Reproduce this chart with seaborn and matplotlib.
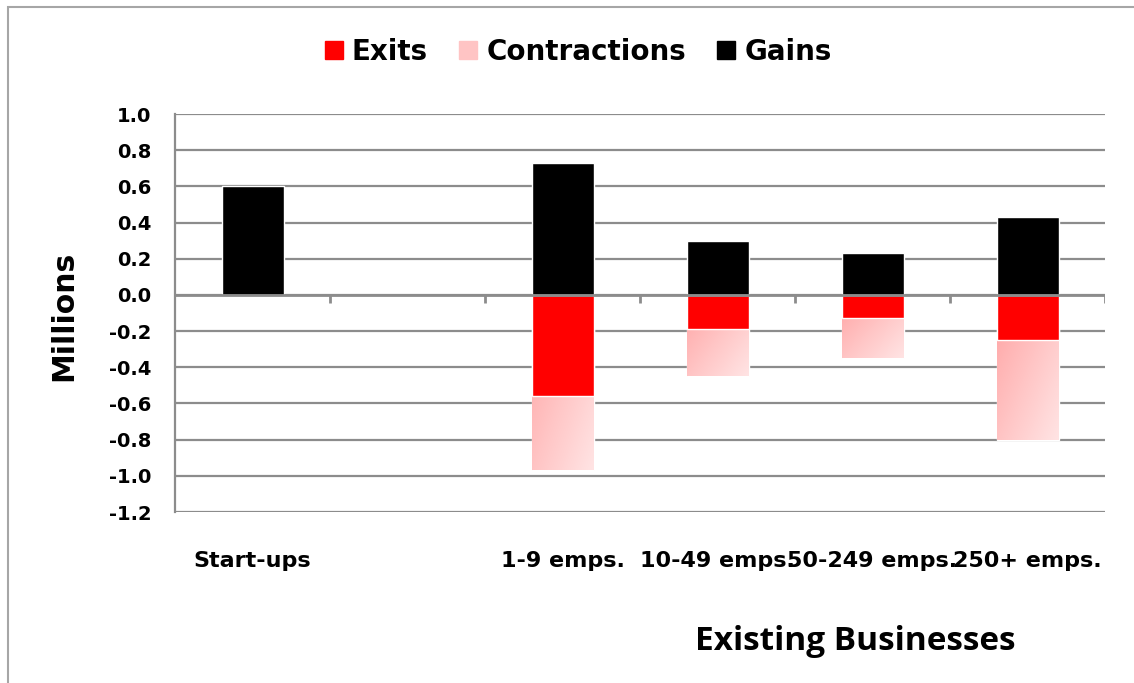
import numpy as np
import pandas as pd
import matplotlib
matplotlib.use("Agg")
import matplotlib.pyplot as plt
import seaborn as sns
from matplotlib.lines import Line2D
from matplotlib.patches import Rectangle
from matplotlib.colors import LinearSegmentedColormap

# ---- data ----
categories = ["Start-ups", " ", "1-9 emps.", "10-49 emps.", "50-249 emps.", "250+ emps."]
exits = [np.nan, np.nan, -0.56, -0.19, -0.13, -0.25]
contractions = [np.nan, np.nan, -0.41, -0.26, -0.22, -0.55]
gains = [0.60, np.nan, 0.73, 0.30, 0.23, 0.43]
y_ticks = [1.0, 0.8, 0.6, 0.4, 0.2, 0.0, -0.2, -0.4, -0.6, -0.8, -1.0, -1.2]
series_names = ["Exits", "Contractions", "Gains"]

sns.set_style("white")
plt.rcParams["font.family"] = ["DejaVu Sans"]
plt.rcParams["axes.unicode_minus"] = False
plt.rcParams["text.color"] = "black"
plt.rcParams["xtick.labelcolor"] = "black"
plt.rcParams["ytick.labelcolor"] = "black"

GRID = "#8c8c8c"
RED = "#ff0000"
PINK_A = "#ffa3a3"
PINK_B = "#ffe4e4"

fig = plt.figure(figsize=(11.34, 6.83), dpi=100)
ax = fig.add_axes([175 / 1134, 1 - 512 / 683, (1105 - 175) / 1134, (512 - 114) / 683])

df_g = pd.DataFrame({"cat": categories, "val": gains})
df_e = pd.DataFrame({"cat": categories, "val": exits})
df_c = pd.DataFrame({"cat": categories,
                     "val": [e + c for e, c in zip(exits, contractions)]})

# contractions (stacked below exits): draw total first
n0 = len(ax.patches)
sns.barplot(data=df_c, x="cat", y="val", order=categories, color=PINK_A,
            width=0.4, errorbar=None, saturation=1, ax=ax, zorder=3)
contr_patches = ax.patches[n0:]
sns.barplot(data=df_e, x="cat", y="val", order=categories, color=RED,
            width=0.4, errorbar=None, saturation=1, ax=ax, zorder=4)
sns.barplot(data=df_g, x="cat", y="val", order=categories, color="black",
            width=0.4, errorbar=None, saturation=1, ax=ax, zorder=4)

# gradient fill for contraction bars
cmap = LinearSegmentedColormap.from_list("pk", [PINK_A, PINK_B])
gu, gv = np.meshgrid(np.linspace(0, 1, 64), np.linspace(0, 1, 64))
grad = (gu + gv) / 2.0
for p in contr_patches:
    if p.get_height() == 0 or np.isnan(p.get_height()):
        continue
    x0, w = p.get_x(), p.get_width()
    y0, h = p.get_y(), p.get_height()
    ytop, ybot = max(y0, y0 + h), min(y0, y0 + h)
    im = ax.imshow(grad, cmap=cmap, extent=[x0, x0 + w, ybot, ytop],
                   aspect="auto", zorder=3.5, origin="upper")
    im.set_clip_path(p)

ax.set_xlim(-0.5, len(categories) - 0.5)
ax.set_ylim(min(y_ticks), max(y_ticks))
ax.set_yticks(y_ticks)
ax.set_yticklabels([f"{v:.1f}" for v in y_ticks], fontsize=14, fontweight="bold",
                   color="black")
for v in y_ticks:
    ax.axhline(v, color=GRID, lw=1.6, zorder=1)
ax.axhline(0, color=GRID, lw=2.0, zorder=5)
bounds = np.arange(len(categories)) + 0.5
ax.vlines(bounds, 0, -0.045, color=GRID, lw=2.0, zorder=5)

ax.set_xticks(range(len(categories)))
ax.set_xticklabels(categories, fontsize=16, fontweight="bold", color="black")
ax.tick_params(axis="x", length=0, pad=28)
ax.tick_params(axis="y", length=6, width=1.6, color=GRID, pad=11, direction="out")
for s in ["top", "right", "bottom"]:
    ax.spines[s].set_visible(False)
ax.spines["left"].set_color(GRID)
ax.spines["left"].set_linewidth(1.6)
ax.set_xlabel("")
ax.set_ylabel("")

fig.text(64 / 1134, 1 - 316 / 683, "Millions", rotation=90, ha="center", va="center",
         fontsize=21.5, fontweight="bold", color="black")
fig.text(855 / 1134, 1 - 650 / 683, "Existing Businesses", ha="center", va="baseline",
         fontsize=24, fontweight="bold", color="black",
         family=["Open Sans", "DejaVu Sans"])

handles = [Line2D([], [], marker="s", linestyle="none", markersize=13.5, color=RED),
           Line2D([], [], marker="s", linestyle="none", markersize=13.5, color="#ffc4c4"),
           Line2D([], [], marker="s", linestyle="none", markersize=13.5, color="black")]
leg = fig.legend(handles, series_names, loc="center",
                 bbox_to_anchor=(578 / 1134, 1 - 52 / 683),
                 ncol=3, frameon=False, prop={"size": 20, "weight": "bold"},
                 handlelength=0.7, handletextpad=0.3, columnspacing=1.1)
for t in leg.get_texts():
    t.set_color("black")

fig.add_artist(Rectangle((8 / 1134, -0.1), 1.2, 1 - 7 / 683 + 0.1,
                         transform=fig.transFigure, fill=False, edgecolor="#a6a6a6",
                         lw=1.5))

fig.savefig("out.png", dpi=100)
